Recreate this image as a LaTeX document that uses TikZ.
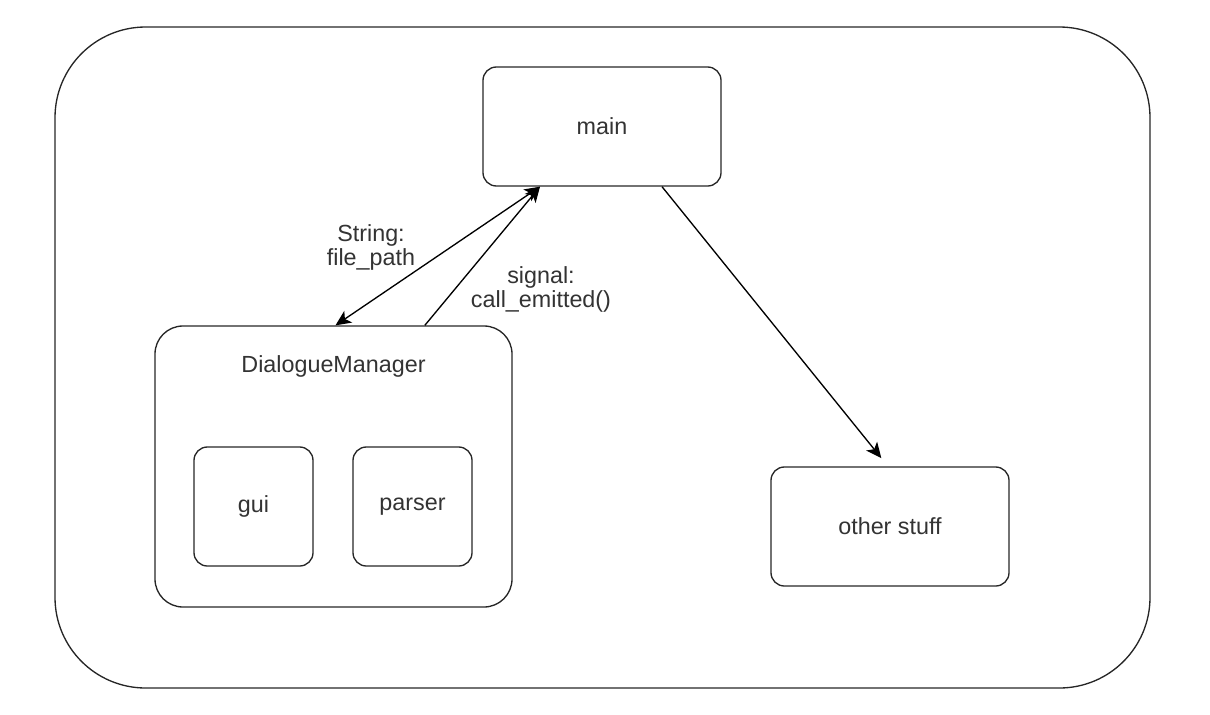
\documentclass[tikz,border=0pt]{standalone}
\usepackage{fontspec}
\setmainfont{Liberation Sans}
\usetikzlibrary{positioning}
\usetikzlibrary{arrows.meta}
\tikzset{%
	>={Stealth[width=10.5pt,length=11.5pt,inset=3pt]},
	% Specifications for style of nodes:
	base/.style = {rectangle, rounded corners=10pt, draw=black!85, line width=1pt, text centered, font=\fontsize{17.5}{18}\selectfont, text=black!80},
	module/.style = {base, minimum width=178.5pt, minimum height=89.25pt},
	part/.style = {base, minimum width=89.25pt, minimum height=89.25pt},
	group/.style = {base, rounded corners=21pt, minimum width=267.75pt, minimum height=210.75pt},
	frame/.style = {base, rounded corners=68pt, minimum width=821.25pt, minimum height=495.75pt},
	tag/.style = {align=center, font=\fontsize{17.5}{18}\selectfont, text=black!80},
}

\begin{document}
\begin{tikzpicture}[x=0.75pt,y=-0.75pt]
		\useasboundingbox (0,0) rectangle (1210,714);
		\node (Frame) [frame] at (602.5,357.5) {};
		
		\node (Main) [module] at (602,126.5) {main};
		\node (Other) [module] at (890,526.5) {other stuff};
		
		\node (DM) [group] at (333.5,466.5) {};
		\node (DMTitle) [tag, below=19pt of DM.north] {DialogueManager};
		\node (Gui) [part] at (253.5,506.5) {gui};
		\node (Parser) [part] at (412.5,506.5) {parser};
		
		\node (PathTag) [tag] at (371,247) {String:\\file\_path};
		\node (SignalTag) [tag] at (541,289) {signal:\\call\_emitted()};
		
		\draw [line width=1pt,<->] ([xshift=1.5pt]DM.north) -- ([xshift=-46.5pt]Main.south);
		\draw [line width=1pt,->] ([xshift=68.5pt]DM.north) -- ([xshift=-46.5pt]Main.south);
		\draw [line width=1pt,->,shorten >=8pt] ([xshift=45pt]Main.south) -- ([xshift=-1.5pt]Other.north);
		
     \end{tikzpicture}
\end{document}
